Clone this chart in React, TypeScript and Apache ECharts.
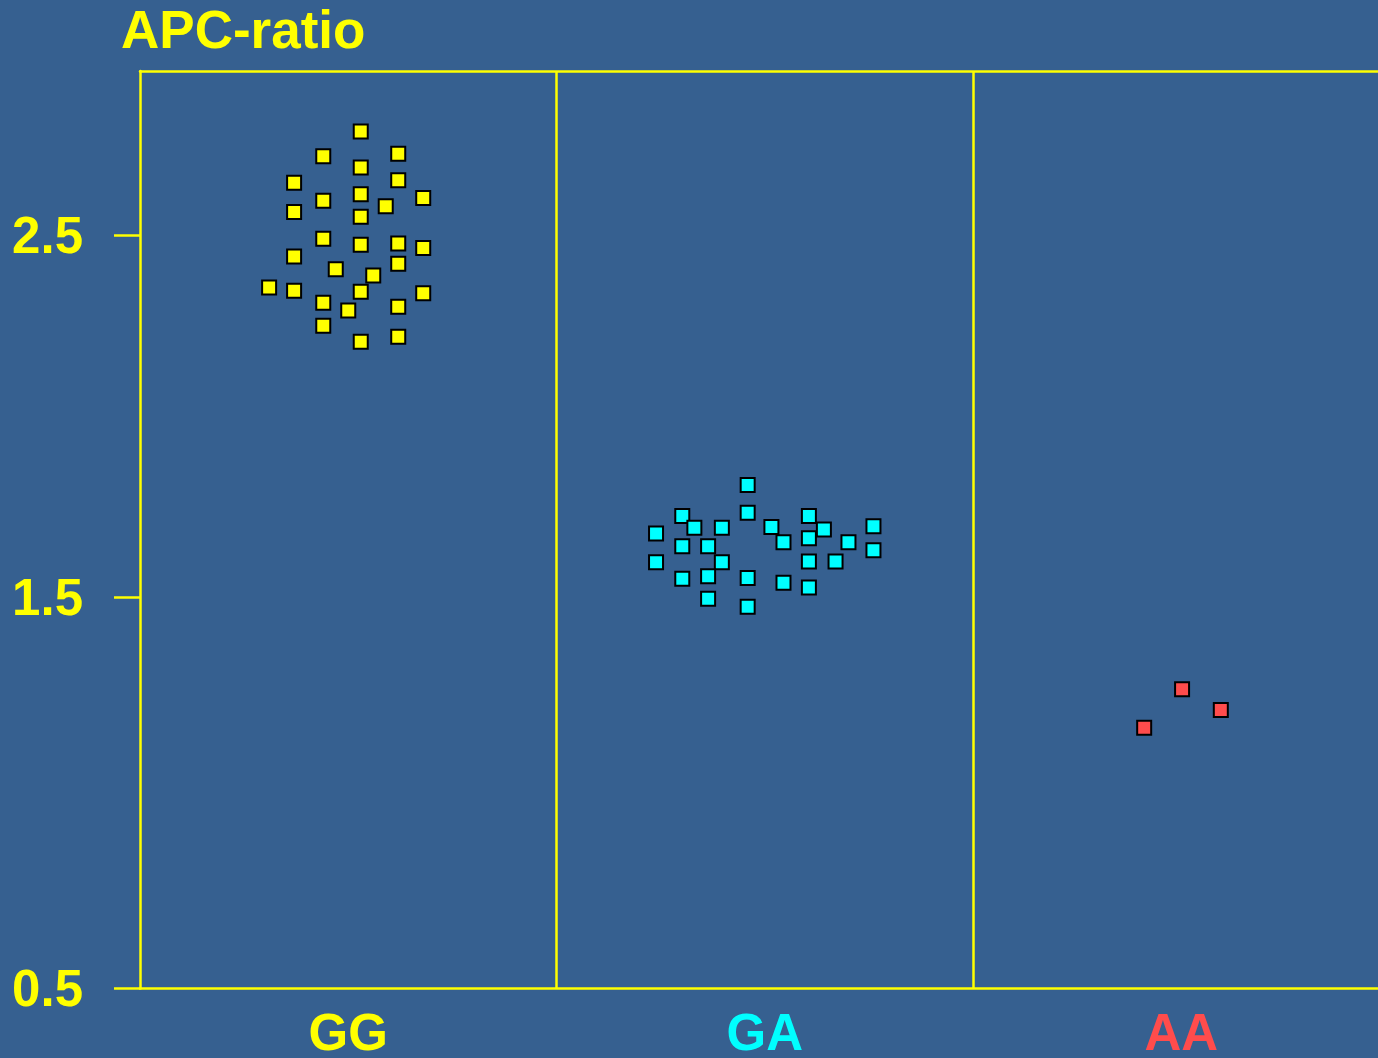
import React, { useEffect, useRef } from "react";
import * as echarts from "echarts";

const categories = ["GG", "GA", "AA"];
const categoryColors = ["#FFFF00", "#00FFFF", "#FF4C4C"];
const yTickLabels = ["0.5", "1.5", "2.5"];
const categoryCenters = [0.5, 1.5, 2.5];
const panelDividers = [1, 2];

// GG group (x = jittered position inside panel 0..1)
const ggX = [0.53, 0.44, 0.62, 0.53, 0.37, 0.62, 0.53, 0.44, 0.68, 0.59, 0.37, 0.53, 0.44, 0.53, 0.62, 0.68, 0.37, 0.62, 0.47, 0.56, 0.31, 0.37, 0.53, 0.68, 0.44, 0.5, 0.62, 0.44, 0.62, 0.53];
const ggY = [2.786, 2.718, 2.725, 2.687, 2.645, 2.652, 2.613, 2.595, 2.603, 2.58, 2.564, 2.551, 2.49, 2.474, 2.477, 2.465, 2.441, 2.421, 2.406, 2.389, 2.356, 2.347, 2.344, 2.34, 2.314, 2.292, 2.303, 2.25, 2.22, 2.206];

// GA group
const gaX = [1.459, 1.302, 1.459, 1.606, 1.331, 1.397, 1.516, 1.642, 1.761, 1.239, 1.545, 1.606, 1.701, 1.302, 1.364, 1.761, 1.239, 1.397, 1.606, 1.67, 1.302, 1.364, 1.459, 1.545, 1.606, 1.364, 1.459];
const gaY = [1.811, 1.725, 1.734, 1.725, 1.693, 1.693, 1.695, 1.688, 1.697, 1.677, 1.653, 1.664, 1.653, 1.642, 1.642, 1.631, 1.598, 1.598, 1.6, 1.6, 1.552, 1.559, 1.554, 1.541, 1.528, 1.497, 1.475];

// AA group
const aaX = [2.502, 2.595, 2.411];
const aaY = [1.247, 1.19, 1.141];

const Y_MIN = 0.4215;
const Y_MAX = 2.9532;
const X_MAX = 2.9724;
const yTickValues = [Y_MIN, 1.5, 2.5];

const FONT = "'Liberation Sans', Arial, Helvetica, sans-serif";
const BG = "#366090";
const LINE = "#FFFF00";
const LW = 2.5;

function zip(xs: number[], ys: number[]) {
  return xs.map((x, i) => [x, ys[i]]);
}

export default function App() {
  const ref = useRef<HTMLDivElement>(null);
  useEffect(() => {
    if (!ref.current) return;
    const chart = echarts.init(ref.current, null, { renderer: "svg" });
    const groups = [zip(ggX, ggY), zip(gaX, gaY), zip(aaX, aaY)];
    const rich: Record<string, any> = {};
    categories.forEach((c, i) => {
      rich["c" + i] = {
        color: categoryColors[i],
        fontSize: 51,
        fontWeight: "bold",
        fontFamily: FONT,
        lineHeight: 44,
      };
    });
    chart.setOption({
      animation: false,
      backgroundColor: BG,
      graphic: [
        {
          type: "text",
          x: 121,
          y: 29,
          style: {
            text: "APC-ratio",
            fill: LINE,
            font: `bold 53px ${FONT}`,
            align: "left",
            verticalAlign: "middle",
          },
        },
      ],
      grid: {
        left: 140,
        top: 71,
        bottom: 68,
        right: 0,
        show: false,
      },
      xAxis: [
        {
          type: "value",
          min: 0,
          max: X_MAX,
          position: "bottom",
          axisLine: { show: true, lineStyle: { color: LINE, width: LW } },
          axisTick: { show: false },
          splitLine: { show: false },
          axisLabel: {
            customValues: categoryCenters,
            margin: 22,
            lineHeight: 44,
            formatter: (v: number) => {
              const i = Math.floor(v);
              return `{c${i}|${categories[i]}}`;
            },
            rich,
          },
        },
        {
          type: "value",
          min: 0,
          max: X_MAX,
          position: "top",
          axisLine: { show: true, lineStyle: { color: LINE, width: LW } },
          axisTick: { show: false },
          splitLine: { show: false },
          axisLabel: { show: false },
        },
      ],
      yAxis: {
        type: "value",
        min: Y_MIN,
        max: Y_MAX,
        axisLine: { show: true, lineStyle: { color: LINE, width: LW } },
        splitLine: { show: false },
        axisTick: {
          show: true,
          customValues: yTickValues,
          length: 26,
          lineStyle: { color: LINE, width: LW },
        },
        axisLabel: {
          customValues: yTickValues,
          margin: 57,
          color: LINE,
          fontSize: 51,
          fontWeight: "bold",
          fontFamily: FONT,
          formatter: (v: number) => {
            const idx = yTickValues.findIndex((t) => Math.abs(t - v) < 1e-6);
            return idx >= 0 ? yTickLabels[idx] : "";
          },
        },
      },
      series: groups.map((data, i) => ({
        type: "scatter",
        name: categories[i],
        data,
        symbol: "rect",
        symbolSize: 14,
        silent: true,
        z: 3,
        itemStyle: {
          color: categoryColors[i],
          borderColor: "#000000",
          borderWidth: 2,
          opacity: 1,
        },
        markLine:
          i === 0
            ? {
                silent: true,
                symbol: "none",
                label: { show: false },
                lineStyle: { color: LINE, width: LW, type: "solid" },
                data: panelDividers.map((d) => ({ xAxis: d })),
              }
            : undefined,
      })),
    });
    return () => chart.dispose();
  }, []);
  return (
    <div
      ref={ref}
      style={{ position: "fixed", left: 0, top: 0, width: 1378, height: 1058 }}
    />
  );
}
